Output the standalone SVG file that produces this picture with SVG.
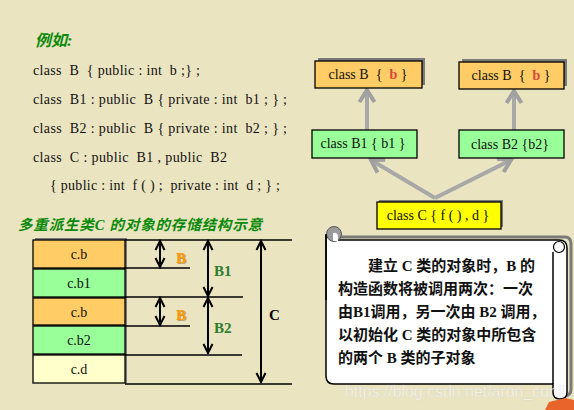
<svg xmlns="http://www.w3.org/2000/svg" width="574" height="410" viewBox="0 0 574 410">
<style>
.code{font-family:"Liberation Serif",serif;font-size:14px;fill:#111}
.box{stroke:#000;stroke-width:1.3}
.shd{fill:#7a7a7a}
.lbl{font-family:"Liberation Serif",serif;font-size:14px;fill:#111;text-anchor:middle}
.cell{font-family:"Liberation Serif",serif;font-size:14px;fill:#111;text-anchor:middle}
.hl{stroke:#000;stroke-width:1.3}
.dim{stroke:#000;stroke-width:2;marker-start:url(#ka);marker-end:url(#ka)}
.garr{stroke:#a8a8a8;stroke-width:4;fill:none;marker-end:url(#ga)}
.note{font-family:"Liberation Serif","Noto Sans CJK SC",serif;font-size:15px;font-weight:bold;fill:#111}
</style>
<defs>
<marker id="ka" markerUnits="userSpaceOnUse" viewBox="-12 -8 14 16" refX="0" refY="0" markerWidth="14" markerHeight="16" orient="auto-start-reverse">
<path d="M-9,-4.5 L0,0 L-9,4.5" fill="none" stroke="#000" stroke-width="2"/>
</marker>
<marker id="ga" markerUnits="userSpaceOnUse" viewBox="-16 -10 20 20" refX="0" refY="0" markerWidth="20" markerHeight="20" orient="auto">
<path d="M-12,-7.5 L0,0 L-12,7.5" fill="none" stroke="#a0a0a0" stroke-width="4"/>
</marker>
</defs>
<rect width="574" height="410" fill="#EAE4C1"/>

<g id="code">
<text x="35" y="46" font-family="Liberation Serif,'Noto Sans CJK SC',serif" font-size="16" font-style="italic" font-weight="bold" fill="#0A8A0A">例如:</text>
<text class="code" x="33" y="75" xml:space="preserve" textLength="167">class  B  { public : int  b ;} ;</text>
<text class="code" x="33" y="104" xml:space="preserve" textLength="254">class  B1 : public  B { private : int  b1 ; } ;</text>
<text class="code" x="33" y="133" xml:space="preserve" textLength="254">class  B2 : public  B { private : int  b2 ; } ;</text>
<text class="code" x="33" y="162" xml:space="preserve" textLength="194">class  C : public  B1 , public  B2</text>
<text class="code" x="50" y="190" xml:space="preserve" textLength="230">{ public : int  f ( ) ;  private : int  d ; } ;</text>
</g>

<text x="18" y="230" font-family="'Liberation Serif','Noto Sans CJK SC',serif" font-size="14.5" font-style="italic" font-weight="bold" fill="#0A8A0A" textLength="244">多重派生类C 的对象的存储结构示意</text>

<g id="memory">
<rect class="shd" x="35" y="238" width="92" height="145"/>
<g id="cell-cb1"><rect class="box" x="33" y="240" width="92" height="28" fill="#FFCC66"/><text class="cell" x="79" y="259">c.b</text></g>
<g id="cell-cb1x"><rect class="box" x="33" y="269" width="92" height="28" fill="#99FF99"/><text class="cell" x="79" y="288">c.b1</text></g>
<g id="cell-cb2"><rect class="box" x="33" y="298" width="92" height="27" fill="#FFCC66"/><text class="cell" x="79" y="317">c.b</text></g>
<g id="cell-cb2x"><rect class="box" x="33" y="326" width="92" height="28" fill="#99FF99"/><text class="cell" x="79" y="345">c.b2</text></g>
<g id="cell-cd"><rect class="box" x="33" y="355" width="92" height="28" fill="#FFFFCC"/><text class="cell" x="79" y="374">c.d</text></g>
</g>

<g id="dimensions">
<line class="hl" x1="125" y1="240" x2="292" y2="240"/>
<line class="hl" x1="125" y1="268" x2="190" y2="268"/>
<line class="hl" x1="125" y1="297" x2="243" y2="297"/>
<line class="hl" x1="125" y1="326" x2="190" y2="326"/>
<line class="hl" x1="125" y1="355" x2="242" y2="355"/>
<line class="hl" x1="125" y1="384" x2="292" y2="384"/>
<line class="dim" x1="160" y1="241" x2="160" y2="267"/>
<line class="dim" x1="160" y1="298" x2="160" y2="325"/>
<line class="dim" x1="208" y1="241" x2="208" y2="296"/>
<line class="dim" x1="208" y1="298" x2="208" y2="353"/>
<line class="dim" x1="261" y1="241" x2="261" y2="382"/>
<g font-family="'Liberation Serif',serif" font-size="15" font-weight="bold">
<text x="177" y="264" fill="#8a5a00" opacity="0.5">B</text>
<text x="176" y="263" fill="#FF9900">B</text>
<text x="177" y="321" fill="#8a5a00" opacity="0.5">B</text>
<text x="176" y="320" fill="#FF9900">B</text>
<text x="214" y="276" fill="#2E7D2E">B1</text>
<text x="214" y="333" fill="#2E7D2E">B2</text>
<text x="269" y="320" fill="#000">C</text>
</g>
</g>

<g id="connectors">
<line class="garr" x1="367" y1="130" x2="367" y2="90"/>
<line class="garr" x1="514" y1="130" x2="514" y2="91"/>
<line class="garr" x1="435" y1="198" x2="371" y2="160"/>
<line class="garr" x1="435" y1="198" x2="511" y2="160"/>
</g>

<g id="classB-left">
<rect class="shd" x="318" y="58" width="107" height="27"/>
<rect class="box" x="315" y="61" width="107" height="27" fill="#FFCC66"/>
<text class="lbl" x="368" y="79" xml:space="preserve">class B  {  <tspan fill="#D9453A" font-weight="bold">b</tspan> }</text>
</g>
<g id="classB-right">
<rect class="shd" x="462" y="59" width="105" height="27"/>
<rect class="box" x="459" y="62" width="105" height="27" fill="#FFCC66"/>
<text class="lbl" x="511" y="80" xml:space="preserve">class B  {  <tspan fill="#D9453A" font-weight="bold">b</tspan> }</text>
</g>
<g id="classB1">
<rect class="box" x="312" y="130" width="105" height="28" fill="#99FF99"/>
<text class="lbl" x="363" y="148" xml:space="preserve">class B1 { b1 }</text>
</g>
<g id="classB2">
<rect class="box" x="459" y="130" width="105" height="28" fill="#99FF99"/>
<text class="lbl" x="510" y="149">class B2 {b2}</text>
</g>
<g id="classC">
<rect class="shd" x="379" y="200" width="124" height="27"/>
<rect class="box" x="377" y="202" width="124" height="27" fill="#FFFF00"/>
<text class="lbl" x="438" y="220">class C { f ( ) , d }</text>
</g>

<g id="note">
<path d="M329,237 L565,237 Q571,237 571,244 L571,389 Q571,396 564,396" fill="none" stroke="#7a7a7a" stroke-width="3"/>
<path d="M326,236 L326,376 Q326,384 334,384 L553,384 L553,392 Q553,399 560,399 Q567,399 567,392 L567,248 Q567,240 559,240 L333,240 Z" fill="#fff" stroke="#000" stroke-width="1.5"/>
<line x1="553" y1="252" x2="553" y2="384" stroke="#000" stroke-width="1.5"/>
<circle cx="559" cy="247" r="5.5" fill="#fff" stroke="#000" stroke-width="1.2"/>
<circle cx="334" cy="234" r="7.5" fill="#9a9a9a" stroke="#555" stroke-width="1"/>
<path d="M333,233 Q337,232 338,236 L338,241 L333,241 Z" fill="#fff"/>
<line x1="326" y1="234" x2="326" y2="300" stroke="#000" stroke-width="1.5"/>
<text class="note" x="368" y="271">建立 C 类的对象时，B 的</text>
<text class="note" x="338" y="294">构造函数将被调用两次：一次</text>
<text class="note" x="338" y="317">由B1调用，另一次由 B2 调用，</text>
<text class="note" x="338" y="340">以初始化 C 类的对象中所包含</text>
<text class="note" x="338" y="363">的两个 B 类的子对象</text>
</g>

<text x="345" y="397" font-family="'Liberation Sans',sans-serif" font-size="16" textLength="220" fill="#ffffff" fill-opacity="0.65" stroke="#b8b8b8" stroke-opacity="0.35" stroke-width="0.5">https://blog.csdn.net/aron_conli</text>
<polygon points="545,410 549,402 565,398 574,400 574,410" fill="#E8642A"/>
</svg>
